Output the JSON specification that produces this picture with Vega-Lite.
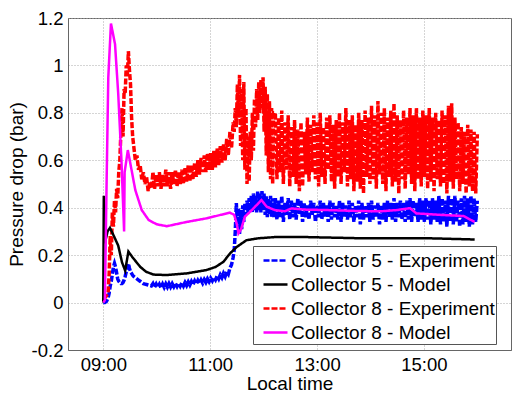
{
"$schema":"https://vega.github.io/schema/vega-lite/v6.json",
"autosize":{"type":"none"},
"padding":{"left":68,"top":18,"right":1,"bottom":45},
"width":443,"height":332,
"background":"white",
"config":{
 "view":{"stroke":"#666","strokeWidth":1},
 "font":"Liberation Sans",
 "axis":{"labelFont":"Liberation Sans","labelFontSize":18.5,"labelColor":"#000","titleFont":"Liberation Sans","titleFontSize":19,"titleFontWeight":"normal","titleColor":"#000","domainColor":"#666","ticks":false,"grid":true,"gridDash":[1,2],"gridColor":"#aaa","gridWidth":1},
 "legend":{"orient":"none","legendX":185,"legendY":228,"fillColor":"white","strokeColor":"#555","padding":1,"symbolType":"stroke","symbolSize":576,"symbolStrokeWidth":2.5,"symbolOffset":8,"labelOffset":2,"labelFont":"Liberation Sans","labelFontSize":19,"labelColor":"#000","labelLimit":400,"rowPadding":0,"title":null}
},
"datasets":{
"exp":[
{"t":9.00,"c5e":0.00,"c8e":0.02},{"t":9.03,"c5e":0.00,"c8e":0.02},{"t":9.06,"c5e":0.005,"c8e":0.03},{"t":9.09,"c5e":0.02,"c8e":0.04},
{"t":9.11,"c5e":0.04,"c8e":0.12},{"t":9.13,"c5e":0.07,"c8e":0.28},{"t":9.15,"c5e":0.09,"c8e":0.20},{"t":9.17,"c5e":0.12,"c8e":0.38},
{"t":9.19,"c5e":0.15,"c8e":0.32},{"t":9.21,"c5e":0.165,"c8e":0.43},{"t":9.23,"c5e":0.15,"c8e":0.38},{"t":9.25,"c5e":0.125,"c8e":0.48},
{"t":9.27,"c5e":0.10,"c8e":0.44},{"t":9.29,"c5e":0.09,"c8e":0.55},{"t":9.31,"c5e":0.085,"c8e":0.60},{"t":9.33,"c5e":0.08,"c8e":0.72},
{"t":9.35,"c5e":0.08,"c8e":0.82},{"t":9.37,"c5e":0.085,"c8e":0.70},{"t":9.39,"c5e":0.095,"c8e":0.90},{"t":9.41,"c5e":0.11,"c8e":0.88},
{"t":9.43,"c5e":0.13,"c8e":1.00},{"t":9.45,"c5e":0.15,"c8e":0.95},{"t":9.47,"c5e":0.165,"c8e":1.06},{"t":9.49,"c5e":0.145,"c8e":0.98},
{"t":9.51,"c5e":0.13,"c8e":0.92},{"t":9.53,"c5e":0.123,"c8e":0.78},{"t":9.55,"c5e":0.115,"c8e":0.70},{"t":9.57,"c5e":0.11,"c8e":0.66},
{"t":9.60,"c5e":0.105,"c8e":0.60},{"t":9.63,"c5e":0.10,"c8e":0.62},{"t":9.66,"c5e":0.095,"c8e":0.56},{"t":9.69,"c5e":0.09,"c8e":0.58},
{"t":9.72,"c5e":0.085,"c8e":0.52},{"t":9.75,"c5e":0.08,"c8e":0.55},{"t":9.78,"c5e":0.078,"c8e":0.50},{"t":9.81,"c5e":0.076,"c8e":0.53},
{"t":9.84,"c5e":0.074,"c8e":0.47},{"t":9.87,"c5e":0.072,"c8e":0.51},{"t":9.90,"c5e":0.07,"c8e":0.48},
{"t":9.93,"c5e":0.08,"c8e":0.55},{"t":9.96,"c5e":0.065,"c8e":0.48},{"t":9.99,"c5e":0.078,"c8e":0.54},{"t":10.02,"c5e":0.064,"c8e":0.49},
{"t":10.05,"c5e":0.077,"c8e":0.55},{"t":10.08,"c5e":0.063,"c8e":0.48},{"t":10.11,"c5e":0.078,"c8e":0.54},{"t":10.14,"c5e":0.064,"c8e":0.49},
{"t":10.17,"c5e":0.079,"c8e":0.56},{"t":10.20,"c5e":0.065,"c8e":0.49},{"t":10.23,"c5e":0.08,"c8e":0.55},{"t":10.26,"c5e":0.066,"c8e":0.48},
{"t":10.29,"c5e":0.08,"c8e":0.55},{"t":10.32,"c5e":0.067,"c8e":0.50},{"t":10.35,"c5e":0.081,"c8e":0.56},{"t":10.38,"c5e":0.068,"c8e":0.49},
{"t":10.41,"c5e":0.082,"c8e":0.55},{"t":10.44,"c5e":0.069,"c8e":0.50},{"t":10.47,"c5e":0.083,"c8e":0.56},{"t":10.50,"c5e":0.07,"c8e":0.50},
{"t":10.53,"c5e":0.085,"c8e":0.57},{"t":10.56,"c5e":0.072,"c8e":0.51},{"t":10.59,"c5e":0.087,"c8e":0.58},{"t":10.62,"c5e":0.074,"c8e":0.51},
{"t":10.65,"c5e":0.089,"c8e":0.58},{"t":10.68,"c5e":0.076,"c8e":0.52},{"t":10.71,"c5e":0.091,"c8e":0.59},{"t":10.74,"c5e":0.078,"c8e":0.53},
{"t":10.77,"c5e":0.093,"c8e":0.60},{"t":10.80,"c5e":0.08,"c8e":0.54},{"t":10.83,"c5e":0.095,"c8e":0.61},{"t":10.86,"c5e":0.082,"c8e":0.55},
{"t":10.89,"c5e":0.097,"c8e":0.62},{"t":10.92,"c5e":0.085,"c8e":0.55},{"t":10.95,"c5e":0.10,"c8e":0.63},{"t":10.98,"c5e":0.088,"c8e":0.56},
{"t":11.01,"c5e":0.103,"c8e":0.63},{"t":11.04,"c5e":0.092,"c8e":0.56},{"t":11.07,"c5e":0.107,"c8e":0.64},{"t":11.10,"c5e":0.096,"c8e":0.57},
{"t":11.13,"c5e":0.112,"c8e":0.65},{"t":11.16,"c5e":0.10,"c8e":0.58},{"t":11.19,"c5e":0.117,"c8e":0.66},{"t":11.22,"c5e":0.105,"c8e":0.59},
{"t":11.25,"c5e":0.123,"c8e":0.67},{"t":11.28,"c5e":0.11,"c8e":0.60},{"t":11.31,"c5e":0.13,"c8e":0.69},{"t":11.34,"c5e":0.12,"c8e":0.62},
{"t":11.37,"c5e":0.145,"c8e":0.72},{"t":11.40,"c5e":0.16,"c8e":0.65},{"t":11.43,"c5e":0.19,"c8e":0.76},
{"t":11.45,"c5e":0.22,"c8e":0.72},{"t":11.47,"c5e":0.30,"c8e":0.82},{"t":11.49,"c5e":0.42,"c8e":0.74},{"t":11.51,"c5e":0.33,"c8e":0.92},
{"t":11.53,"c5e":0.40,"c8e":0.78},{"t":11.55,"c5e":0.29,"c8e":0.96},{"t":11.57,"c5e":0.39,"c8e":0.66},{"t":11.59,"c5e":0.31,"c8e":0.90},
{"t":11.61,"c5e":0.41,"c8e":0.60},{"t":11.63,"c5e":0.34,"c8e":0.93},{"t":11.65,"c5e":0.42,"c8e":0.56},{"t":11.67,"c5e":0.37,"c8e":0.82},
{"t":11.69,"c5e":0.43,"c8e":0.50},{"t":11.71,"c5e":0.38,"c8e":0.70},{"t":11.73,"c5e":0.44,"c8e":0.51},{"t":11.75,"c5e":0.39,"c8e":0.72},
{"t":11.77,"c5e":0.45,"c8e":0.60},{"t":11.79,"c5e":0.38,"c8e":0.80},{"t":11.81,"c5e":0.46,"c8e":0.64},{"t":11.83,"c5e":0.39,"c8e":0.86},
{"t":11.85,"c5e":0.45,"c8e":0.74},{"t":11.87,"c5e":0.38,"c8e":0.90},{"t":11.89,"c5e":0.47,"c8e":0.77},{"t":11.91,"c5e":0.39,"c8e":0.93},
{"t":11.93,"c5e":0.46,"c8e":0.80},{"t":11.95,"c5e":0.38,"c8e":0.94},{"t":11.97,"c5e":0.47,"c8e":0.82},{"t":11.99,"c5e":0.39,"c8e":0.95},
{"t":12.01,"c5e":0.46,"c8e":0.72},{"t":12.03,"c5e":0.37,"c8e":0.91},{"t":12.05,"c5e":0.45,"c8e":0.62},{"t":12.07,"c5e":0.36,"c8e":0.88},
{"t":12.09,"c5e":0.44,"c8e":0.55},{"t":12.11,"c5e":0.37,"c8e":0.85},{"t":12.13,"c5e":0.45,"c8e":0.52},{"t":12.15,"c5e":0.36,"c8e":0.82},
{"t":12.17,"c5e":0.44,"c8e":0.50},{"t":12.19,"c5e":0.36,"c8e":0.80},
{"t":12.22,"c5e":0.44,"c8e":0.80},{"t":12.25,"c5e":0.35,"c8e":0.52},{"t":12.28,"c5e":0.43,"c8e":0.78},{"t":12.31,"c5e":0.36,"c8e":0.55},
{"t":12.34,"c5e":0.45,"c8e":0.81},{"t":12.37,"c5e":0.34,"c8e":0.50},{"t":12.40,"c5e":0.42,"c8e":0.76},{"t":12.43,"c5e":0.37,"c8e":0.56},
{"t":12.46,"c5e":0.44,"c8e":0.79},{"t":12.49,"c5e":0.35,"c8e":0.49},{"t":12.52,"c5e":0.43,"c8e":0.74},{"t":12.55,"c5e":0.36,"c8e":0.53},
{"t":12.58,"c5e":0.42,"c8e":0.77},{"t":12.61,"c5e":0.35,"c8e":0.50},{"t":12.64,"c5e":0.44,"c8e":0.73},{"t":12.67,"c5e":0.37,"c8e":0.47},
{"t":12.70,"c5e":0.43,"c8e":0.76},{"t":12.73,"c5e":0.34,"c8e":0.49},{"t":12.76,"c5e":0.42,"c8e":0.72},{"t":12.79,"c5e":0.36,"c8e":0.54},
{"t":12.82,"c5e":0.41,"c8e":0.78},{"t":12.85,"c5e":0.35,"c8e":0.51},{"t":12.88,"c5e":0.43,"c8e":0.75},{"t":12.91,"c5e":0.37,"c8e":0.55},
{"t":12.94,"c5e":0.42,"c8e":0.79},{"t":12.97,"c5e":0.34,"c8e":0.52},{"t":13.00,"c5e":0.41,"c8e":0.76},{"t":13.03,"c5e":0.36,"c8e":0.49},
{"t":13.06,"c5e":0.43,"c8e":0.80},{"t":13.09,"c5e":0.35,"c8e":0.53},{"t":13.12,"c5e":0.42,"c8e":0.74},{"t":13.15,"c5e":0.36,"c8e":0.50},
{"t":13.18,"c5e":0.41,"c8e":0.78},{"t":13.21,"c5e":0.34,"c8e":0.56},{"t":13.24,"c5e":0.43,"c8e":0.79},{"t":13.27,"c5e":0.35,"c8e":0.51},
{"t":13.30,"c5e":0.42,"c8e":0.75},{"t":13.33,"c5e":0.36,"c8e":0.48},{"t":13.36,"c5e":0.41,"c8e":0.77},{"t":13.39,"c5e":0.35,"c8e":0.53},
{"t":13.42,"c5e":0.43,"c8e":0.80},{"t":13.45,"c5e":0.34,"c8e":0.50},{"t":13.48,"c5e":0.42,"c8e":0.76},{"t":13.51,"c5e":0.36,"c8e":0.55},
{"t":13.54,"c5e":0.41,"c8e":0.82},{"t":13.57,"c5e":0.35,"c8e":0.49},{"t":13.60,"c5e":0.43,"c8e":0.77},{"t":13.63,"c5e":0.36,"c8e":0.52},
{"t":13.66,"c5e":0.42,"c8e":0.79},{"t":13.69,"c5e":0.34,"c8e":0.47},{"t":13.72,"c5e":0.41,"c8e":0.75},{"t":13.75,"c5e":0.36,"c8e":0.51},
{"t":13.78,"c5e":0.43,"c8e":0.80},{"t":13.81,"c5e":0.33,"c8e":0.48},{"t":13.84,"c5e":0.42,"c8e":0.77},{"t":13.87,"c5e":0.35,"c8e":0.46},
{"t":13.90,"c5e":0.41,"c8e":0.81},{"t":13.93,"c5e":0.36,"c8e":0.53},{"t":13.96,"c5e":0.42,"c8e":0.78},{"t":13.99,"c5e":0.34,"c8e":0.50},
{"t":14.02,"c5e":0.43,"c8e":0.83},{"t":14.05,"c5e":0.35,"c8e":0.52},{"t":14.08,"c5e":0.41,"c8e":0.79},{"t":14.11,"c5e":0.36,"c8e":0.48},
{"t":14.14,"c5e":0.42,"c8e":0.85},{"t":14.17,"c5e":0.33,"c8e":0.54},{"t":14.20,"c5e":0.41,"c8e":0.80},{"t":14.23,"c5e":0.35,"c8e":0.50},
{"t":14.26,"c5e":0.42,"c8e":0.82},{"t":14.29,"c5e":0.34,"c8e":0.47},{"t":14.32,"c5e":0.43,"c8e":0.78},{"t":14.35,"c5e":0.36,"c8e":0.53},
{"t":14.38,"c5e":0.42,"c8e":0.81},{"t":14.41,"c5e":0.35,"c8e":0.49},{"t":14.44,"c5e":0.44,"c8e":0.84},{"t":14.47,"c5e":0.34,"c8e":0.51},
{"t":14.50,"c5e":0.42,"c8e":0.79},{"t":14.53,"c5e":0.36,"c8e":0.46},{"t":14.56,"c5e":0.43,"c8e":0.77},{"t":14.59,"c5e":0.35,"c8e":0.52},
{"t":14.62,"c5e":0.42,"c8e":0.81},{"t":14.65,"c5e":0.34,"c8e":0.48},{"t":14.68,"c5e":0.43,"c8e":0.78},{"t":14.71,"c5e":0.35,"c8e":0.54},
{"t":14.74,"c5e":0.44,"c8e":0.82},{"t":14.77,"c5e":0.34,"c8e":0.50},{"t":14.80,"c5e":0.43,"c8e":0.79},{"t":14.83,"c5e":0.36,"c8e":0.47},
{"t":14.86,"c5e":0.42,"c8e":0.82},{"t":14.89,"c5e":0.34,"c8e":0.52},{"t":14.92,"c5e":0.44,"c8e":0.78},{"t":14.95,"c5e":0.35,"c8e":0.49},
{"t":14.98,"c5e":0.43,"c8e":0.81},{"t":15.01,"c5e":0.34,"c8e":0.53},{"t":15.04,"c5e":0.44,"c8e":0.79},{"t":15.07,"c5e":0.35,"c8e":0.48},
{"t":15.10,"c5e":0.43,"c8e":0.82},{"t":15.13,"c5e":0.33,"c8e":0.51},{"t":15.16,"c5e":0.44,"c8e":0.78},{"t":15.19,"c5e":0.35,"c8e":0.47},
{"t":15.22,"c5e":0.43,"c8e":0.80},{"t":15.25,"c5e":0.34,"c8e":0.52},{"t":15.28,"c5e":0.45,"c8e":0.77},{"t":15.31,"c5e":0.33,"c8e":0.49},
{"t":15.34,"c5e":0.44,"c8e":0.81},{"t":15.37,"c5e":0.34,"c8e":0.50},{"t":15.40,"c5e":0.43,"c8e":0.79},{"t":15.43,"c5e":0.32,"c8e":0.46},
{"t":15.46,"c5e":0.45,"c8e":0.83},{"t":15.49,"c5e":0.34,"c8e":0.51},{"t":15.52,"c5e":0.44,"c8e":0.84},{"t":15.55,"c5e":0.33,"c8e":0.48},
{"t":15.58,"c5e":0.45,"c8e":0.78},{"t":15.61,"c5e":0.34,"c8e":0.52},{"t":15.64,"c5e":0.43,"c8e":0.76},{"t":15.67,"c5e":0.32,"c8e":0.47},
{"t":15.70,"c5e":0.44,"c8e":0.74},{"t":15.73,"c5e":0.33,"c8e":0.50},{"t":15.76,"c5e":0.45,"c8e":0.72},{"t":15.79,"c5e":0.34,"c8e":0.46},
{"t":15.82,"c5e":0.44,"c8e":0.75},{"t":15.85,"c5e":0.32,"c8e":0.49},{"t":15.88,"c5e":0.45,"c8e":0.73},{"t":15.91,"c5e":0.33,"c8e":0.47},
{"t":15.94,"c5e":0.44,"c8e":0.72},{"t":15.97,"c5e":0.34,"c8e":0.46},{"t":16.00,"c5e":0.43,"c8e":0.71}
],
"mod":[
{"t":9.00,"c5m":0.0},{"t":9.01,"c5m":0.45},{"t":9.03,"c5m":0.25},{"t":9.08,"c5m":0.30},{"t":9.125,"c5m":0.315},{"t":9.2,"c5m":0.28},
{"t":9.28,"c5m":0.24},{"t":9.35,"c5m":0.17},{"t":9.41,"c5m":0.135},{"t":9.47,"c5m":0.215},{"t":9.55,"c5m":0.19},{"t":9.69,"c5m":0.151},
{"t":9.8,"c5m":0.13},{"t":9.94,"c5m":0.118},{"t":10.19,"c5m":0.116},{"t":10.56,"c5m":0.123},{"t":10.93,"c5m":0.137},{"t":11.1,"c5m":0.15},
{"t":11.25,"c5m":0.172},{"t":11.37,"c5m":0.207},{"t":11.5,"c5m":0.235},{"t":11.68,"c5m":0.263},{"t":11.9,"c5m":0.271},{"t":12.2,"c5m":0.276},
{"t":12.62,"c5m":0.277},{"t":13.86,"c5m":0.271},{"t":15.11,"c5m":0.271},{"t":15.95,"c5m":0.266},
{"t":9.00,"c8m":0.0},{"t":9.03,"c8m":0.01},{"t":9.064,"c8m":0.53},{"t":9.094,"c8m":0.95},{"t":9.144,"c8m":1.177},{"t":9.22,"c8m":1.09},
{"t":9.28,"c8m":0.88},{"t":9.34,"c8m":0.60},{"t":9.39,"c8m":0.30},{"t":9.40,"c8m":0.55},{"t":9.46,"c8m":0.643},{"t":9.6,"c8m":0.474},
{"t":9.72,"c8m":0.39},{"t":9.85,"c8m":0.348},{"t":10.0,"c8m":0.33},{"t":10.19,"c8m":0.322},{"t":10.56,"c8m":0.34},{"t":10.93,"c8m":0.355},
{"t":11.2,"c8m":0.37},{"t":11.37,"c8m":0.379},{"t":11.45,"c8m":0.37},{"t":11.5,"c8m":0.33},{"t":11.53,"c8m":0.292},{"t":11.58,"c8m":0.31},
{"t":11.65,"c8m":0.362},{"t":11.78,"c8m":0.39},{"t":11.9,"c8m":0.418},{"t":11.96,"c8m":0.432},{"t":12.06,"c8m":0.404},{"t":12.21,"c8m":0.39},
{"t":12.4,"c8m":0.385},{"t":12.52,"c8m":0.397},{"t":12.77,"c8m":0.392},{"t":13.2,"c8m":0.39},{"t":13.8,"c8m":0.386},{"t":14.2,"c8m":0.385},
{"t":14.49,"c8m":0.39},{"t":14.74,"c8m":0.398},{"t":14.86,"c8m":0.376},{"t":15.3,"c8m":0.37},{"t":15.74,"c8m":0.365},{"t":15.95,"c8m":0.34}
]
},
"encoding":{
 "x":{"field":"t","type":"quantitative","scale":{"domain":[8.34,16.63],"nice":false,"zero":false},
  "axis":{"values":[9,11,13,15],"labelExpr":"(datum.value<10?'0':'')+datum.value+':00'","title":"Local time","labelPadding":5,"titlePadding":1}},
 "y":{"field":"v","type":"quantitative","scale":{"domain":[-0.2,1.2],"nice":false,"zero":false},
  "axis":{"values":[-0.2,0,0.2,0.4,0.6,0.8,1,1.2],"labelExpr":"datum.value<0?'-0.2':format(datum.value,'.1~f')","title":"Pressure drop (bar)","labelPadding":5,"titlePadding":5}},
 "color":{"field":"s","type":"nominal","scale":{"domain":["c5e","c5m","c8e","c8m"],"range":["#0000ff","#000000","#ff0000","#ff00ff"]},
  "legend":{"labelExpr":"datum.label=='c5e'?'Collector 5 - Experiment':datum.label=='c5m'?'Collector 5 - Model':datum.label=='c8e'?'Collector 8 - Experiment':'Collector 8 - Model'"}},
 "strokeDash":{"field":"s","type":"nominal","scale":{"domain":["c5e","c5m","c8e","c8m"],"range":[[6,2],[1,0],[6,2],[1,0]]},
  "legend":{"labelExpr":"datum.label=='c5e'?'Collector 5 - Experiment':datum.label=='c5m'?'Collector 5 - Model':datum.label=='c8e'?'Collector 8 - Experiment':'Collector 8 - Model'"}}
},
"layer":[
 {"data":{"name":"exp"},"transform":[{"fold":["c5e","c8e"],"as":["s","v"]},{"filter":"isValid(datum.v)"}],"mark":{"type":"line","strokeWidth":3.5,"clip":true}},
 {"data":{"name":"mod"},"transform":[{"fold":["c5m","c8m"],"as":["s","v"]},{"filter":"isValid(datum.v)"}],"mark":{"type":"line","strokeWidth":2.5,"clip":true}}
]
}
